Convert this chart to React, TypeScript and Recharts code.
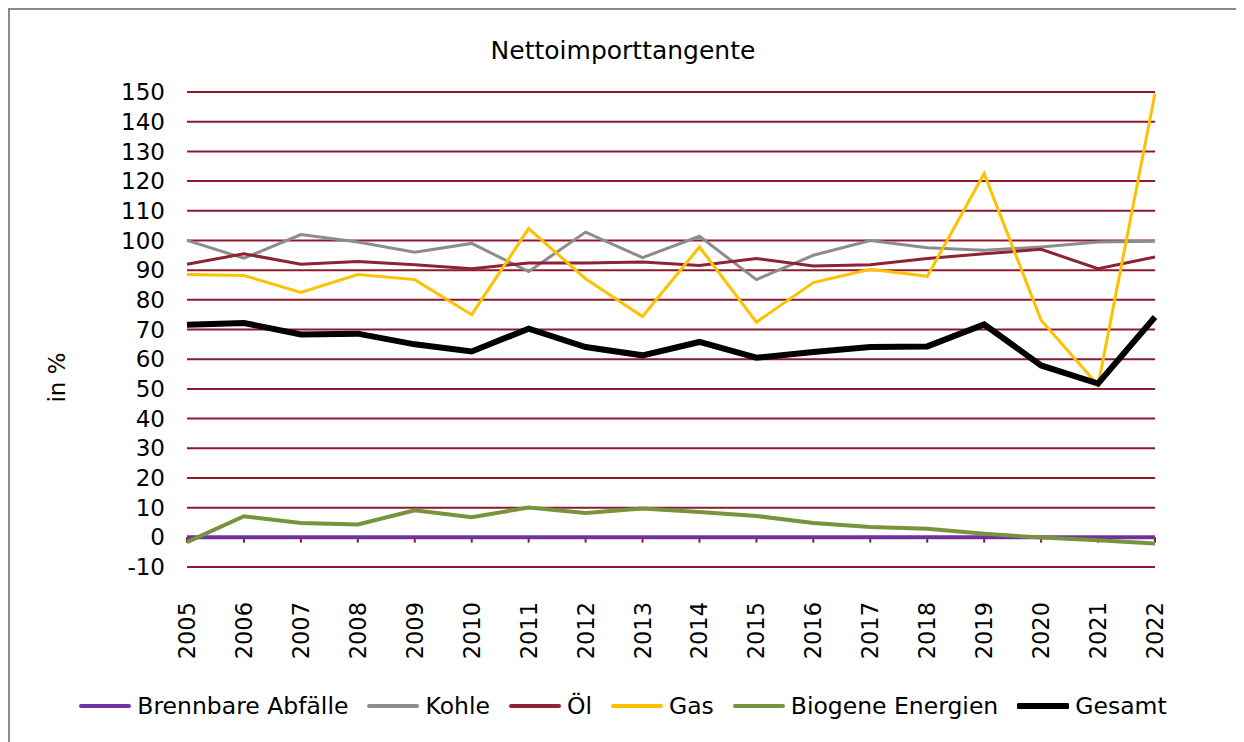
import React from "react";
import { LineChart, Line, XAxis, YAxis, CartesianGrid, Legend, ReferenceLine } from "recharts";

const years = [2005, 2006, 2007, 2008, 2009, 2010, 2011, 2012, 2013, 2014, 2015, 2016, 2017, 2018, 2019, 2020, 2021, 2022];
const abfaelle = [0, 0, 0, 0, 0, 0, 0, 0, 0, 0, 0, 0, 0, 0, 0, 0, 0, 0];
const kohle = [100, 94, 102, 99.5, 96, 99, 89.5, 102.8, 94.2, 101.4, 86.8, 95, 100, 97.5, 96.7, 97.8, 99.5, 99.7];
const oel = [92, 95.5, 92, 92.9, 91.8, 90.5, 92.4, 92.4, 92.7, 91.6, 93.9, 91.4, 91.8, 93.9, 95.5, 97, 90.5, 94.4];
const gas = [88.5, 88.2, 82.5, 88.5, 86.8, 75, 104, 87.1, 74.4, 97.8, 72.5, 85.8, 90.3, 87.9, 122.5, 73.1, 51.2, 149.5];
const biogen = [-1.6, 7.1, 4.8, 4.3, 9.1, 6.8, 10, 8.2, 9.7, 8.5, 7.2, 4.8, 3.5, 2.9, 1.2, -0.1, -1, -2.1];
const gesamt = [71.6, 72.2, 68.3, 68.6, 65, 62.6, 70.3, 64.1, 61.3, 65.8, 60.5, 62.4, 64.1, 64.3, 71.7, 57.9, 51.8, 74.2];
const yTicks = [-10, 0, 10, 20, 30, 40, 50, 60, 70, 80, 90, 100, 110, 120, 130, 140, 150];

const data = years.map((y, i) => ({
  year: y,
  abfaelle: abfaelle[i],
  kohle: kohle[i],
  oel: oel[i],
  gas: gas[i],
  biogen: biogen[i],
  gesamt: gesamt[i],
}));

const FONT = "'DejaVu Sans', Verdana, sans-serif";
const GRID = "#8B1A2E";

const series = [
  { key: "abfaelle", name: "Brennbare Abfälle", color: "#7030A0", width: 4 },
  { key: "kohle", name: "Kohle", color: "#8C8C8C", width: 3 },
  { key: "oel", name: "Öl", color: "#8E2236", width: 3 },
  { key: "gas", name: "Gas", color: "#FFC000", width: 3 },
  { key: "biogen", name: "Biogene Energien", color: "#77933C", width: 4 },
  { key: "gesamt", name: "Gesamt", color: "#000000", width: 6 },
];

const XTick = (props: any) => {
  const { x, y, payload } = props;
  return (
    <text
      transform={`translate(${x},${y + 35}) rotate(-90)`}
      textAnchor="end"
      dominantBaseline="central"
      fontFamily={FONT}
      fontSize={22.5}
      fill="#000"
    >
      {payload.value}
    </text>
  );
};

const LegendContent = () => (
  <div style={{ display: "flex", justifyContent: "center", alignItems: "center", fontFamily: FONT, fontSize: 23.5, color: "#000" }}>
    {series.map((s, i) => (
      <div key={s.key} style={{ display: "flex", alignItems: "center", marginRight: i === series.length - 1 ? 0 : 19 }}>
        <svg width={52} height={10} style={{ marginRight: 6 }}>
          <line x1={2} y1={5} x2={50} y2={5} stroke={s.color} strokeWidth={s.key === "gesamt" ? 6 : 4} strokeLinecap="round" />
        </svg>
        <span>{s.name}</span>
      </div>
    ))}
  </div>
);

export default function App() {
  return (
    <div style={{ position: "relative", width: 1226, height: 732, border: "2px solid #8a8a8a", background: "#fff" }}>
      <div
        style={{
          position: "absolute",
          top: 26,
          left: 0,
          width: 1226,
          textAlign: "center",
          fontFamily: FONT,
          fontSize: 25,
          lineHeight: "30px",
          color: "#000",
        }}
      >
        Nettoimporttangente
      </div>
      <LineChart width={1226} height={732} data={data} margin={{ top: 82, right: 81, bottom: 75, left: 77 }}>
        <CartesianGrid horizontal vertical={false} stroke={GRID} strokeWidth={2} strokeOpacity={1} />
        <XAxis
          dataKey="year"
          type="number"
          domain={[2005, 2022]}
          ticks={years}
          interval={0}
          axisLine={false}
          tickLine={false}
          tickSize={0}
          tickMargin={0}
          height={100}
          tick={<XTick />}
        />
        <YAxis
          type="number"
          domain={[-10, 150]}
          ticks={yTicks}
          interval={0}
          axisLine={false}
          tickLine={false}
          tickSize={0}
          tickMargin={22}
          width={100}
          tick={{ fontFamily: FONT, fontSize: 23, fill: "#000" }}
          label={{
            content: (p: any) => {
              const vb = p.viewBox;
              const cx = vb.x - 30;
              const cy = vb.y + vb.height / 2 + 48;
              return (
                <text
                  transform={`translate(${cx},${cy}) rotate(-90)`}
                  textAnchor="middle"
                  dominantBaseline="central"
                  fontFamily={FONT}
                  fontSize={23}
                  fill="#000"
                >
                  in %
                </text>
              );
            },
          }}
        />
        <ReferenceLine y={0} stroke={GRID} strokeWidth={2} />
        {years.map((yr) => (
          <ReferenceLine
            key={`t${yr}`}
            segment={[{ x: yr, y: 0 }, { x: yr, y: -1.8 }]}
            stroke={GRID}
            strokeWidth={2}
            ifOverflow="visible"
          />
        ))}
        {series.map((s) => (
          <Line
            key={s.key}
            type="linear"
            dataKey={s.key}
            name={s.name}
            stroke={s.color}
            strokeWidth={s.width}
            dot={false}
            activeDot={false}
            isAnimationActive={false}
          />
        ))}
        <Legend
          layout="horizontal"
          verticalAlign="middle"
          align="center"
          content={<LegendContent />}
          wrapperStyle={{ top: 682, left: 0, width: 1226 }}
        />
      </LineChart>
    </div>
  );
}
